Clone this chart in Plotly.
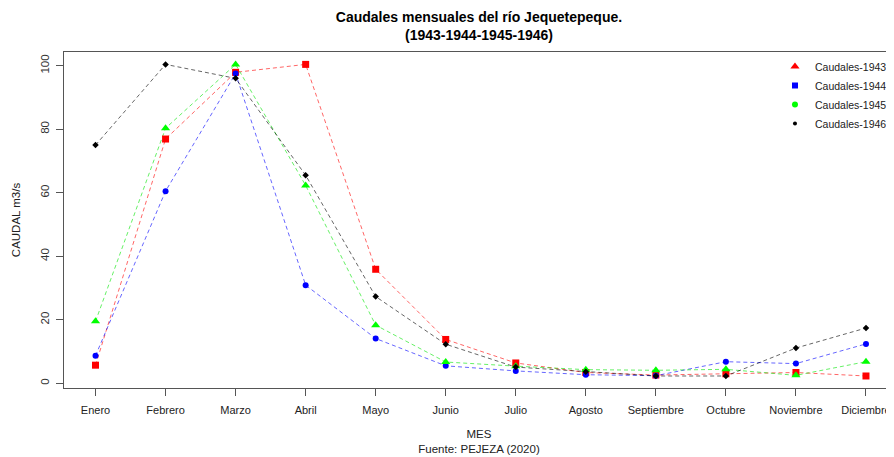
import plotly.graph_objects as go

meses = ["Enero", "Febrero", "Marzo", "Abril", "Mayo", "Junio", "Julio",
         "Agosto", "Septiembre", "Octubre", "Noviembre", "Diciembre"]
q1943 = [5.7, 76.9, 97.9, 100.4, 35.9, 13.8, 6.4, 3.4, 2.6, 3.0, 3.4, 2.3]
q1944 = [8.7, 60.5, 97.5, 30.9, 14.1, 5.5, 3.9, 2.7, 2.4, 6.8, 6.2, 12.4]
q1945 = [19.5, 80.3, 100.4, 62.3, 18.3, 6.7, 5.4, 4.3, 4.1, 4.4, 2.5, 6.8]
q1946 = [75.0, 100.4, 96.0, 65.5, 27.3, 12.3, 5.1, 3.6, 2.3, 2.3, 11.1, 17.4]
yticks = [0, 20, 40, 60, 80, 100]

xs = list(range(len(meses)))
FONT = "Liberation Sans, Arial, sans-serif"

# The page body has an 8px default margin, so the figure is 8px smaller
# than the window on each axis and positioned accordingly.
W, H = 886, 449

series = [
    ("Caudales-1943", q1943, "255,0,0", "square", 7, "triangle-up", 8),
    ("Caudales-1944", q1944, "0,0,255", "circle", 6, "square", 6),
    ("Caudales-1945", q1945, "0,230,0", "triangle-up", 8, "circle", 6),
    ("Caudales-1946", q1946, "0,0,0", "diamond", 5, "circle", 4),
]

fig = go.Figure()
for name, vals, rgb, sym, size, lsym, lsize in series:
    fig.add_trace(go.Scatter(
        x=xs, y=vals, mode="lines", showlegend=False,
        line=dict(color=f"rgba({rgb},0.6)", width=1, dash="4px,3px"),
        hoverinfo="skip"))
for name, vals, rgb, sym, size, lsym, lsize in series:
    col = "rgb(0,255,0)" if rgb == "0,230,0" else f"rgb({rgb})"
    fig.add_trace(go.Scatter(
        x=xs, y=vals, mode="markers", name=name, showlegend=False,
        marker=dict(color=col, symbol=sym, size=size, line=dict(width=0))))
for name, vals, rgb, sym, size, lsym, lsize in series:
    col = "rgb(0,255,0)" if rgb == "0,230,0" else f"rgb({rgb})"
    fig.add_trace(go.Scatter(
        x=[None], y=[None], mode="markers", name=name, showlegend=True,
        marker=dict(color=col, symbol=lsym, size=lsize, line=dict(width=0))))

fig.update_layout(
    width=W, height=H,
    margin=dict(l=56, r=0, t=44, b=69),
    paper_bgcolor="white", plot_bgcolor="white",
    font=dict(family=FONT, size=11.5, color="#222"),
    title=dict(
        text="<b>Caudales mensuales del río Jequetepeque.<br>(1943-1944-1945-1946)</b>",
        font=dict(family=FONT, size=14, color="black"),
        x=471 / W, xanchor="center", xref="container",
        y=1 - 13.5 / H, yanchor="top", yref="container"),
    legend=dict(
        x=0.8566, y=1.0, xanchor="left", yanchor="top",
        font=dict(family=FONT, size=10.5, color="#222"),
        bgcolor="rgba(0,0,0,0)", itemwidth=30, tracegroupgap=0),
    xaxis=dict(
        range=[-0.45, 11.40], tickmode="array", tickvals=xs, ticktext=meses,
        showline=True, linecolor="#555", linewidth=1, mirror=True,
        ticks="outside", ticklen=7, tickcolor="#555",
        ticklabelstandoff=5,
        showgrid=False, zeroline=False,
        tickfont=dict(size=11, color="#222"),
        title=dict(text="MES<br>Fuente: PEJEZA (2020)",
                   font=dict(size=11.5, color="#222"), standoff=14)),
    yaxis=dict(
        range=[-1.48, 104.3], tickmode="array", tickvals=yticks,
        tickangle=-90,
        showline=True, linecolor="#555", linewidth=1,
        ticks="outside", ticklen=7, tickcolor="#555",
        ticklabelstandoff=2,
        showgrid=False, zeroline=False,
        tickfont=dict(size=11.5, color="#333"),
        title=dict(text="CAUDAL m3/s", font=dict(size=11.5, color="#222"),
                   standoff=16)),
)

fig.write_html("out.html")
